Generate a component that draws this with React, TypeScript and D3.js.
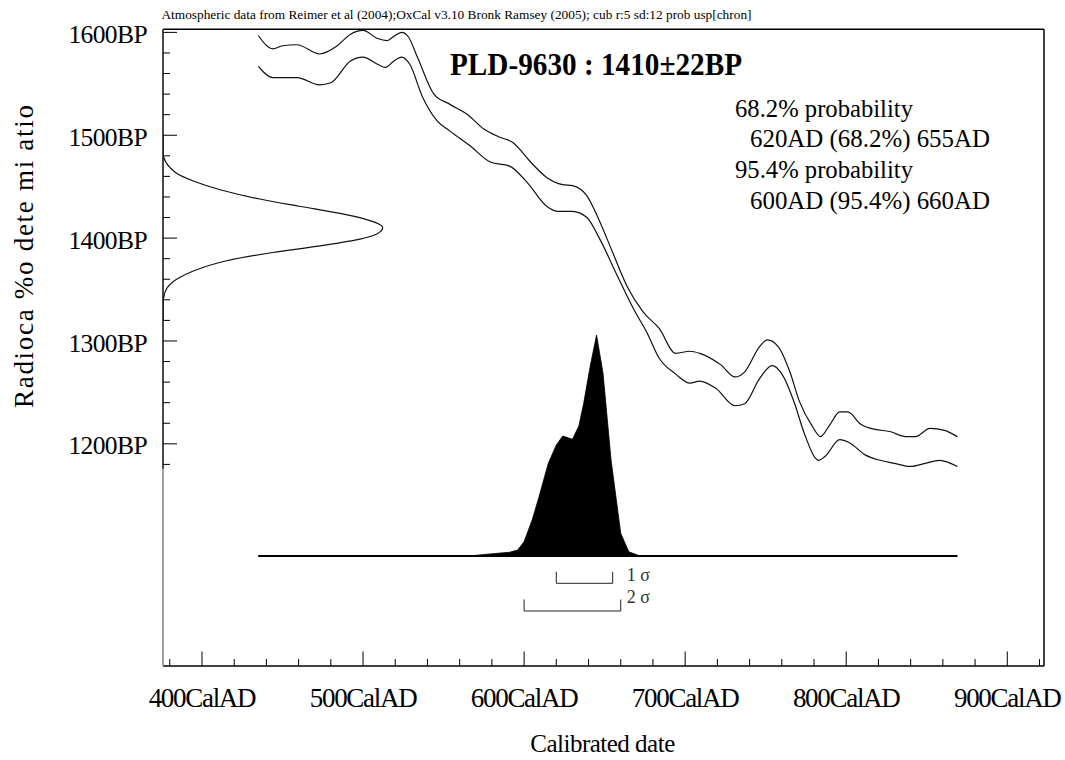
import React from "react";
import * as d3 from "d3";

// Axis labels
const xLabelYears = [400, 500, 600, 700, 800, 900];
const yLabelBP = [1200, 1300, 1400, 1500, 1600];

// Calibration curve, upper (+1 sigma) edge: calendar year AD -> radiocarbon age BP
const upperYears = [435, 444, 450, 459, 473, 484, 492, 500, 509, 515, 519, 524, 528, 534, 544, 554, 565, 575, 585, 593, 604, 614, 624, 630, 639, 647, 655, 664, 674, 684, 694, 703, 709, 722, 731, 737, 746, 751, 758, 765, 771, 779, 784, 790, 796, 801, 809, 818, 827, 837, 843, 852, 861, 869];
const upperBP = [1597, 1584, 1587, 1588, 1579, 1587, 1598, 1602, 1594, 1592, 1596, 1600, 1596, 1575, 1540, 1530, 1520, 1506, 1498, 1493, 1474, 1459, 1452, 1451, 1441, 1416, 1386, 1353, 1328, 1312, 1288, 1290, 1288, 1277, 1265, 1270, 1294, 1301, 1294, 1270, 1241, 1217, 1207, 1219, 1231, 1231, 1219, 1214, 1212, 1207, 1207, 1215, 1213, 1207];

// Calibration curve, lower (-1 sigma) edge
const lowerYears = [435, 444, 459, 473, 480, 492, 500, 509, 514, 519, 524, 529, 537, 546, 554, 567, 579, 591, 602, 614, 621, 630, 639, 647, 658, 668, 676, 684, 694, 703, 709, 719, 731, 737, 746, 754, 760, 768, 774, 783, 787, 796, 802, 812, 821, 830, 840, 849, 858, 869];
const lowerBP = [1567, 1556, 1556, 1549, 1551, 1572, 1576, 1569, 1566, 1572, 1576, 1569, 1537, 1514, 1504, 1489, 1474, 1470, 1454, 1431, 1426, 1426, 1420, 1399, 1363, 1331, 1309, 1283, 1268, 1259, 1261, 1254, 1237, 1239, 1263, 1276, 1268, 1239, 1210, 1184, 1188, 1204, 1201, 1189, 1184, 1181, 1178, 1181, 1184, 1178];

// Radiocarbon determination (relative probability against BP)
const detBP = [1500, 1483, 1464, 1455.5, 1447, 1438, 1431, 1424, 1418, 1414, 1410, 1404, 1399, 1392.5, 1386, 1378, 1368, 1360, 1351, 1341, 1334, 1320];
const detProb = [0, 0, 0.055, 0.138, 0.26, 0.44, 0.62, 0.806, 0.927, 0.98, 1, 0.973, 0.897, 0.715, 0.5, 0.29, 0.138, 0.062, 0.017, 0.002, 0, 0];

// Calibrated date distribution (relative probability against year AD)
const calYears = [435, 566, 577, 591, 596, 600, 605, 609, 615, 620, 624, 630, 634, 637, 641, 645, 649, 654, 660, 665, 672, 869];
const calProb = [0, 0, 0.008, 0.017, 0.027, 0.065, 0.163, 0.261, 0.419, 0.502, 0.543, 0.528, 0.588, 0.691, 0.857, 1, 0.827, 0.434, 0.103, 0.019, 0, 0];

// Highest probability ranges
const oneSigma = [620, 655];
const twoSigma = [600, 660];

const rangeLines = [
  "68.2% probability",
  "620AD (68.2%) 655AD",
  "95.4% probability",
  "600AD (95.4%) 660AD",
];

const SERIF = '"Liberation Serif", "Times New Roman", Times, serif';

export default function App() {
  const W = 1065;
  const H = 760;
  const left = 163;
  const right = 1044;
  const top = 29.3;
  const bottom = 666;

  const x = d3.scaleLinear().domain([375.8, 922.8]).range([left, right]);
  const y = d3.scaleLinear().domain([984, 1603]).range([bottom, top]);
  const pCal = d3.scaleLinear().domain([0, 1]).range([556, 335]);
  const pDet = d3.scaleLinear().domain([0, 1]).range([left, 382.7]);

  const curveLine = d3
    .line<[number, number]>()
    .x((d) => x(d[0]))
    .y((d) => y(d[1]))
    .curve(d3.curveMonotoneX);

  const upperPath = curveLine(upperYears.map((yr, i) => [yr, upperBP[i]]) as [number, number][]) || "";
  const lowerPath = curveLine(lowerYears.map((yr, i) => [yr, lowerBP[i]]) as [number, number][]) || "";

  const detLine = d3
    .line<[number, number]>()
    .x((d) => pDet(d[1]))
    .y((d) => y(d[0]))
    .curve(d3.curveMonotoneY);
  const detPath = detLine(detBP.map((b, i) => [b, detProb[i]]) as [number, number][]) || "";

  const calArea = d3
    .area<[number, number]>()
    .x((d) => x(d[0]))
    .y0(pCal(0))
    .y1((d) => pCal(d[1]))
    .curve(d3.curveLinear);
  const calPath = calArea(calYears.map((yr, i) => [yr, calProb[i]]) as [number, number][]) || "";

  const xTicks = d3.range(380, 921, 20);
  const yTicks = d3.range(1180, 1601, 20);

  const bracket = (r: number[], yy: number) => {
    const x0 = x(r[0]);
    const x1 = x(r[1]);
    return `M${x0},${yy - 11.5}V${yy}H${x1}V${yy - 11.5}`;
  };

  return (
    <svg
      width={W}
      height={H}
      viewBox={`0 0 ${W} ${H}`}
      style={{ position: "absolute", left: 0, top: 0, background: "#fff" }}
      fontFamily={SERIF}
    >
      <rect x={0} y={0} width={W} height={H} fill="#fff" />
      <defs>
        <clipPath id="plotClip">
          <rect x={left} y={top} width={right - left} height={bottom - top} />
        </clipPath>
      </defs>

      {/* header */}
      <text x={161.5} y={18.5} fontSize={13} fill="#000" textLength={590} lengthAdjust="spacingAndGlyphs">
        Atmospheric data from Reimer et al (2004);OxCal v3.10 Bronk Ramsey (2005); cub r:5 sd:12 prob usp[chron]
      </text>

      {/* frame */}
      <line x1={left} x2={right} y1={top} y2={top} stroke="#000" strokeWidth={1.5} />
      <line x1={right} x2={right} y1={top} y2={bottom} stroke="#000" strokeWidth={1.5} />
      <line x1={left} x2={right} y1={bottom} y2={bottom} stroke="#000" strokeWidth={1.5} />
      <line x1={left} x2={left} y1={top} y2={bottom} stroke="#8a8a8a" strokeWidth={1.6} />
      <line x1={left} x2={left} y1={top} y2={y(1180) + 4} stroke="#333" strokeWidth={1.6} />

      {/* x ticks */}
      {xTicks.map((t) => (
        <line
          key={`xt${t}`}
          x1={x(t)}
          x2={x(t)}
          y1={bottom}
          y2={bottom - (t % 100 === 0 ? 14.5 : 7)}
          stroke="#000"
          strokeWidth={1}
        />
      ))}
      {xLabelYears.map((t) => (
        <text
          key={`xl${t}`}
          x={x(t)}
          y={707}
          fontSize={27}
          letterSpacing={-1.3}
          textAnchor="middle"
          fill="#000"
        >
          {`${t}CalAD`}
        </text>
      ))}

      {/* y ticks */}
      {yTicks.map((t) => (
        <line
          key={`yt${t}`}
          x1={left}
          x2={left + (t % 100 === 0 ? 14 : 7)}
          y1={y(t)}
          y2={y(t)}
          stroke="#000"
          strokeWidth={1}
        />
      ))}
      {yLabelBP.map((t) => (
        <text
          key={`yl${t}`}
          x={147}
          y={y(t) + 10.6}
          fontSize={25.5}
          letterSpacing={-0.6}
          textAnchor="end"
          fill="#000"
        >
          {`${t}BP`}
        </text>
      ))}

      {/* axis titles */}
      <text x={602.5} y={752} fontSize={25} letterSpacing={-0.5} textAnchor="middle" fill="#000">
        Calibrated date
      </text>
      <text
        transform="translate(33,256.5) rotate(-90)"
        fontSize={27}
        textAnchor="middle"
        fill="#000"
        textLength={303}
        lengthAdjust="spacing"
      >
        Radioca %o dete mi atio
      </text>

      <g clipPath="url(#plotClip)">
        {/* calibration curve */}
        <path d={upperPath} fill="none" stroke="#111" strokeWidth={1.2} />
        <path d={lowerPath} fill="none" stroke="#111" strokeWidth={1.2} />

        {/* radiocarbon determination */}
        <path d={detPath} fill="none" stroke="#111" strokeWidth={1.2} />

        {/* calibrated distribution */}
        <path d={calPath} fill="#000" stroke="#000" strokeWidth={0.8} />
        <line
          x1={x(calYears[0])}
          x2={x(calYears[calYears.length - 1])}
          y1={pCal(0)}
          y2={pCal(0)}
          stroke="#000"
          strokeWidth={2}
        />
      </g>

      {/* sigma ranges */}
      <path d={bracket(oneSigma, 583.3)} fill="none" stroke="#222" strokeWidth={1} />
      <path d={bracket(twoSigma, 611)} fill="none" stroke="#222" strokeWidth={1} />
      <text x={x(oneSigma[1]) + 14} y={581} fontSize={18} fill="#333">
        1 σ
      </text>
      <text x={x(oneSigma[1]) + 14} y={603} fontSize={18} fill="#333">
        2 σ
      </text>

      {/* title */}
      <text x={450} y={75} fontSize={31} fontWeight="bold" fill="#000" textLength={292} lengthAdjust="spacingAndGlyphs">
        PLD-9630 : 1410±22BP
      </text>

      {/* probability ranges */}
      {rangeLines.map((s, i) => (
        <text
          key={s}
          x={i % 2 === 0 ? 735 : 750}
          y={116.5 + i * 30.7}
          fontSize={26}
          fill="#000"
          textLength={i % 2 === 0 ? 178 : 240}
          lengthAdjust="spacingAndGlyphs"
        >
          {s}
        </text>
      ))}
    </svg>
  );
}
